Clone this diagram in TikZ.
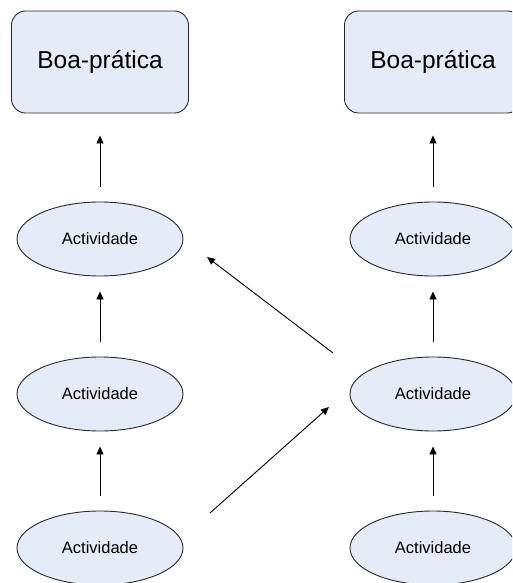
\documentclass[tikz,border=0pt]{standalone}
\usepackage{fontspec}
\setmainfont{Liberation Sans}
\usetikzlibrary{shapes.geometric,arrows.meta}
\definecolor{boxfill}{RGB}{230,236,247}
\definecolor{edge}{RGB}{40,40,40}
\tikzset{
  practice/.style={draw=edge, fill=boxfill, rounded corners=14pt, line width=0.9pt,
    minimum width=177pt, minimum height=102pt, inner sep=0pt,
    font=\fontsize{24.5}{29}\selectfont},
  activity/.style={ellipse, draw=edge, fill=boxfill, line width=0.9pt,
    minimum width=166pt, minimum height=74pt, inner sep=0pt,
    font=\fontsize{16.5}{20}\selectfont},
  link/.style={line width=0.9pt, -{Triangle[length=8pt,width=7pt]}},
  uplink/.style={link, shorten <=15pt, shorten >=15pt}
}
\begin{document}
\begin{tikzpicture}[x=1pt,y=-1pt]
  \useasboundingbox (0,0) rectangle (512,583);
  \clip (0,0) rectangle (512,583);

  % left column
  \node[practice] (bpL) at (100,62) {Boa-prática};
  \node[activity] (a1L) at (100,239) {Actividade};
  \node[activity] (a2L) at (100,394) {Actividade};
  \node[activity] (a3L) at (100,548) {Actividade};

  % right column
  \node[practice] (bpR) at (433,62) {Boa-prática};
  \node[activity] (a1R) at (433,239) {Actividade};
  \node[activity] (a2R) at (433,394) {Actividade};
  \node[activity] (a3R) at (433,548) {Actividade};

  % vertical links
  \draw[link, shorten <=15pt, shorten >=22pt] (a1L.north) -- (bpL.south);
  \draw[uplink] (a2L.north) -- (a1L.south);
  \draw[uplink] (a3L.north) -- (a2L.south);
  \draw[link, shorten <=15pt, shorten >=22pt] (a1R.north) -- (bpR.south);
  \draw[uplink] (a2R.north) -- (a1R.south);
  \draw[uplink] (a3R.north) -- (a2R.south);

  % crossing links between the columns
  \coordinate (crossA) at (210,513);
  \coordinate (crossB) at (329,407);
  \coordinate (crossC) at (333,353);
  \coordinate (crossD) at (207,257);
  \draw[link] (crossA) -- (crossB);
  \draw[link] (crossC) -- (crossD);
\end{tikzpicture}
\end{document}
